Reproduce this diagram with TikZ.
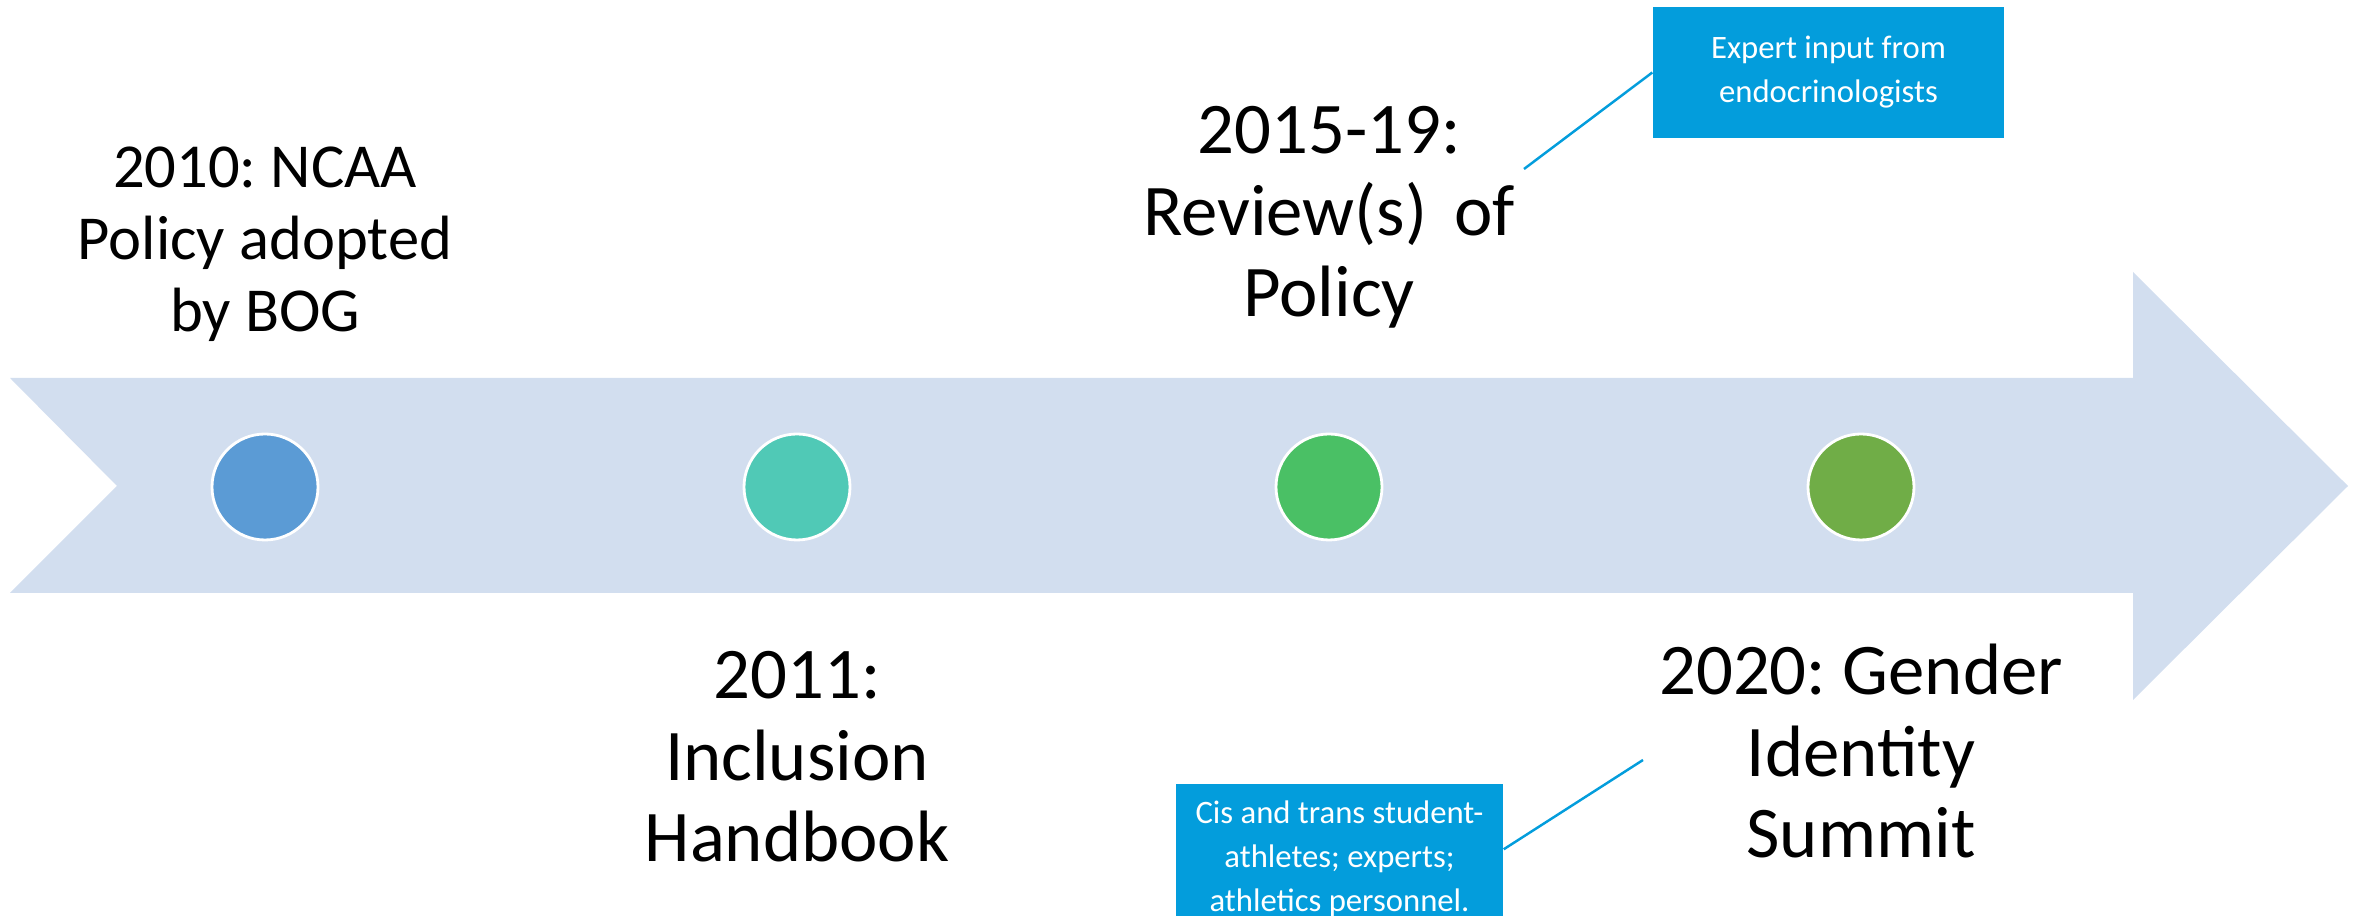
\documentclass[tikz,border=0pt]{standalone}
\usepackage{fontspec}
\setmainfont{Carlito}

\definecolor{bandfill}{HTML}{D2DEEF}
\definecolor{calloutblue}{HTML}{039DDC}
\definecolor{dotblue}{HTML}{5B9BD5}
\definecolor{dotteal}{HTML}{50C9B6}
\definecolor{dotgreen}{HTML}{4AC065}
\definecolor{dotolive}{HTML}{70AD47}

\begin{document}
\frenchspacing
\begin{tikzpicture}[
    eventdot/.style={
        circle, draw=white, line width=0.8pt,
        minimum size=1.06cm, inner sep=0pt
    },
    eventlabel/.style={
        font=\fontsize{20.7}{23.2}\selectfont, align=center,
        anchor=base, inner sep=0pt
    },
    calloutbox/.style={
        fill=calloutblue, text=white, align=center, inner sep=0pt,
        font=\fontsize{9.3}{12.5}\selectfont
    },
    leader/.style={
        draw=calloutblue, line width=0.7pt
    }
]
\useasboundingbox (0,0) rectangle (23.63,-9.16);
\clip (0,0) rectangle (23.63,-9.16);

% Timeline band with notched tail and arrow head
\fill[bandfill] (0.10,-3.78) -- (21.33,-3.78) -- (21.33,-2.72) -- (23.48,-4.86)
    -- (21.33,-7.00) -- (21.33,-5.93) -- (0.10,-5.93) -- (1.17,-4.86) -- cycle;

% Event markers
\node[eventdot, fill=dotblue]  (d2010) at ( 2.65,-4.87) {};
\node[eventdot, fill=dotteal]  (d2011) at ( 7.97,-4.87) {};
\node[eventdot, fill=dotgreen] (d2015) at (13.29,-4.87) {};
\node[eventdot, fill=dotolive] (d2020) at (18.61,-4.87) {};

% Event labels (anchored on the baseline of the last line)
\node[eventlabel, font=\fontsize{17.8}{20.6}\selectfont] (l2010) at ( 2.65,-3.32)
    {2010: NCAA\\Policy adopted\\by BOG};
\node[eventlabel] (l2011) at ( 7.97,-8.62) {2011:\\Inclusion\\Handbook};
\node[eventlabel] (l2015) at (13.29,-3.17) {2015-19:\\Review(s)\hspace{0.15em} of\\Policy};
\node[eventlabel] (l2020) at (18.61,-8.58) {2020: Gender\\Identity\\Summit};

% Callouts
\node[calloutbox, minimum width=3.51cm, minimum height=1.31cm] (expert)
    at (18.285,-0.725) {Expert input from\\endocrinologists};
\node[calloutbox, minimum width=3.27cm, minimum height=1.50cm] (summit)
    at (13.395,-8.59) {Cis and trans student-\\athletes; experts;\\athletics personnel.};

\coordinate (expertend) at (15.24,-1.69);
\coordinate (summitend) at (16.43,-7.60);
\draw[leader] (expert.west) -- (expertend);
\draw[leader] ([yshift=-0.66cm]summit.north east) -- (summitend);

\end{tikzpicture}
\end{document}
